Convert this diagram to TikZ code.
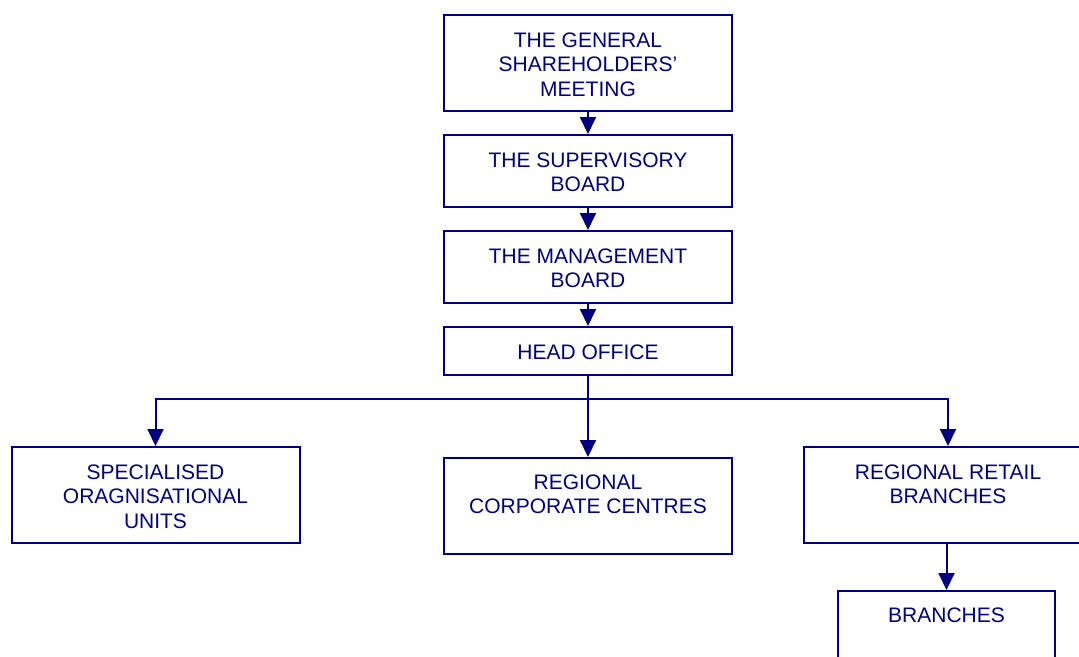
\documentclass[tikz,border=0pt]{standalone}
\usepackage{fontspec}
\setmainfont{Liberation Sans}
\usetikzlibrary{arrows.meta}
\definecolor{navyc}{RGB}{0,0,128}
\begin{document}
\begin{tikzpicture}[x=1pt,y=1pt,
  box/.style={draw=navyc, line width=2pt, rectangle, inner sep=0pt, minimum width=288pt},
  lbl/.style={anchor=base, inner sep=0pt, text=navyc, font=\fontsize{21}{24.5}\selectfont},
  arr/.style={draw=navyc, line width=2pt, -{Triangle[width=16pt,length=17pt]}},
  ln/.style={draw=navyc, line width=2pt}]
\useasboundingbox (0,0) rectangle (1079,-656);
\clip (0,0) rectangle (1079,-656);
% boxes
\node[box, minimum height=96pt] (gsm) at (588,-63) {};
\node[box, minimum height=72pt] (sup) at (588,-171) {};
\node[box, minimum height=72pt] (mgt) at (588,-267) {};
\node[box, minimum height=48pt] (head) at (588,-351) {};
\node[box, minimum height=96pt] (spec) at (155.5,-495) {};
\node[box, minimum height=96pt] (rcc) at (588,-506) {};
\node[box, minimum height=96pt] (rrb) at (948,-495) {};
\node[box, minimum height=96pt, minimum width=217pt] (br) at (946.5,-639) {};
% labels
\node[lbl] (gsmt) at ([yshift=-33pt]gsm.north) {\parbox[t]{288pt}{\centering THE GENERAL\\SHAREHOLDERS’\\MEETING}};
\node[lbl] (supt) at ([yshift=-33pt]sup.north) {\parbox[t]{288pt}{\centering THE SUPERVISORY\\BOARD}};
\node[lbl] (mgtt) at ([yshift=-33pt]mgt.north) {\parbox[t]{288pt}{\centering THE MANAGEMENT\\BOARD}};
\node[lbl] (headt) at ([yshift=-33pt]head.north) {\parbox[t]{288pt}{\centering HEAD OFFICE}};
\node[lbl] (spect) at ([yshift=-33pt]spec.north) {\parbox[t]{288pt}{\centering SPECIALISED\\ORAGNISATIONAL\\UNITS}};
\node[lbl] (rcct) at ([yshift=-32pt]rcc.north) {\parbox[t]{288pt}{\centering REGIONAL\\CORPORATE CENTRES}};
\node[lbl] (rrbt) at ([yshift=-33pt]rrb.north) {\parbox[t]{288pt}{\centering REGIONAL RETAIL\\BRANCHES}};
\node[lbl] (brt) at ([yshift=-32pt]br.north) {\parbox[t]{217pt}{\centering BRANCHES}};
% connectors
\coordinate (split) at (588,-399);
\draw[arr] (gsm.south) -- (sup.north);
\draw[arr] (sup.south) -- (mgt.north);
\draw[arr] (mgt.south) -- (head.north);
\draw[ln] (head.south) -- (split);
\draw[arr] (split) -- (rcc.north);
\draw[arr] (split) -| (spec.north);
\draw[arr] (split) -| (rrb.north);
\draw[arr] (rrb.south -| br.north) -- (br.north);
\end{tikzpicture}
\end{document}
